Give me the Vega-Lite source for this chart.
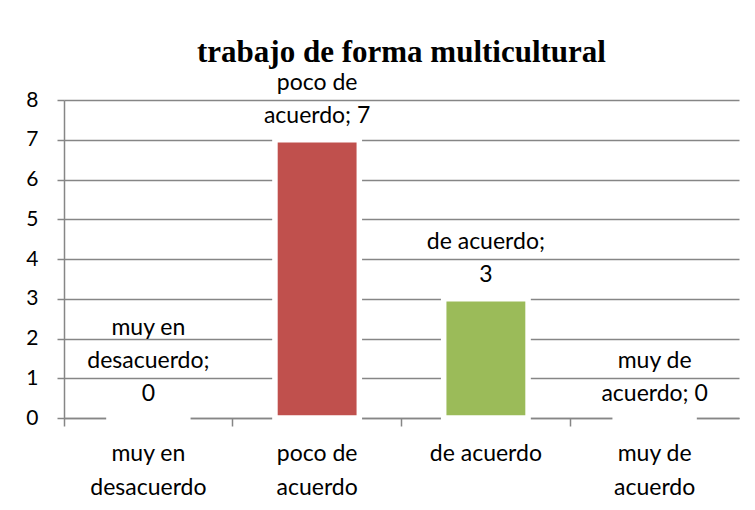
{
  "$schema": "https://vega.github.io/schema/vega-lite/v6.json",
  "width": 675,
  "height": 318,
  "autosize": {"type": "none"},
  "padding": {"left": 64, "top": 100, "right": 16, "bottom": 92},
  "background": "white",
  "title": {
    "text": "trabajo de forma multicultural",
    "font": "Liberation Serif",
    "fontSize": 31,
    "fontWeight": "bold",
    "color": "black",
    "anchor": "middle",
    "offset": 3
  },
  "data": {
    "values": [
      {"categoria": "muy en desacuerdo", "valor": 0, "linea1": "muy en", "linea2": "desacuerdo;", "linea3": "0"},
      {"categoria": "poco de acuerdo", "valor": 7, "linea1": "", "linea2": "poco de", "linea3": "acuerdo; 7"},
      {"categoria": "de acuerdo", "valor": 3, "linea1": "", "linea2": "de acuerdo;", "linea3": "3"},
      {"categoria": "muy de acuerdo", "valor": 0, "linea1": "", "linea2": "muy de", "linea3": "acuerdo; 0"}
    ]
  },
  "encoding": {
    "x": {
      "field": "categoria",
      "type": "nominal",
      "sort": null,
      "scale": {"paddingInner": 0.5, "paddingOuter": 0.25},
      "axis": {
        "title": null,
        "labelAngle": 0,
        "bandPosition": -0.5,
        "tickSize": 8,
        "tickColor": "#868686",
        "tickWidth": 1.5,
        "domainColor": "#868686",
        "domainWidth": 1.5,
        "labelFont": "Lato",
        "labelFontSize": 23,
        "labelColor": "black",
        "labelPadding": 27,
        "labelLineHeight": 34,
        "labelBaseline": "middle",
        "labelExpr": "datum.label == 'muy en desacuerdo' ? ['muy en','desacuerdo'] : datum.label == 'poco de acuerdo' ? ['poco de','acuerdo'] : datum.label == 'muy de acuerdo' ? ['muy de','acuerdo'] : datum.label"
      }
    },
    "y": {
      "field": "valor",
      "type": "quantitative",
      "scale": {"domain": [0, 8], "nice": false},
      "axis": {
        "title": null,
        "values": [0, 1, 2, 3, 4, 5, 6, 7, 8],
        "tickSize": 7,
        "tickColor": "#868686",
        "tickWidth": 1.5,
        "domainColor": "#868686",
        "domainWidth": 1.5,
        "gridColor": "#868686",
        "gridWidth": 1.5,
        "labelFont": "Lato",
        "labelFontSize": 21,
        "labelColor": "black",
        "labelPadding": 19
      }
    }
  },
  "layer": [
    {
      "mark": {"type": "bar", "stroke": "white", "strokeWidth": 5.5},
      "encoding": {
        "color": {
          "field": "categoria",
          "type": "nominal",
          "scale": {
            "domain": ["muy en desacuerdo", "poco de acuerdo", "de acuerdo", "muy de acuerdo"],
            "range": ["#4F81BD", "#C0504D", "#9BBB59", "#8064A2"]
          },
          "legend": null
        }
      }
    },
    {
      "mark": {"type": "text", "font": "Lato", "fontSize": 23, "color": "black", "baseline": "alphabetic", "dy": -17},
      "encoding": {"text": {"field": "linea3"}}
    },
    {
      "mark": {"type": "text", "font": "Lato", "fontSize": 23, "color": "black", "baseline": "alphabetic", "dy": -50},
      "encoding": {"text": {"field": "linea2"}}
    },
    {
      "transform": [{"filter": "datum.linea1 != ''"}],
      "mark": {"type": "text", "font": "Lato", "fontSize": 23, "color": "black", "baseline": "alphabetic", "dy": -83},
      "encoding": {"text": {"field": "linea1"}}
    }
  ],
  "config": {
    "view": {"stroke": null}
  }
}
